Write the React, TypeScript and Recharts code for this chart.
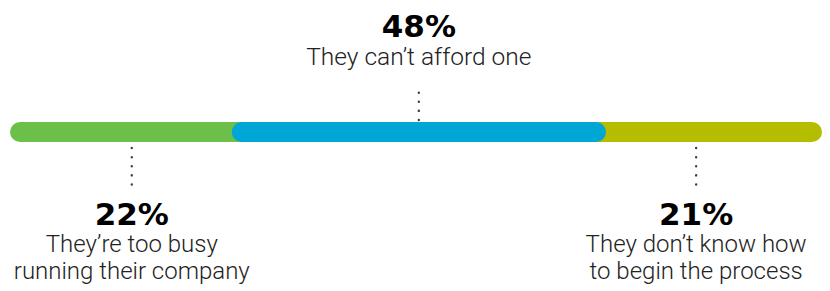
import React from 'react'
import { BarChart, Bar, XAxis, YAxis, LabelList } from 'recharts'

// one row, three overlapping segments along a 0-100 track
const keys = ['busy', 'afford', 'process']
const shares = [22, 48, 21]
const segStart = [0, 27.3, 69]
const segEnd = [30, 73.4, 100]
const captions = [
  ['They’re too busy', 'running their company'],
  ['They can’t afford one'],
  ['They don’t know how', 'to begin the process'],
]
const colors = ['#6cc04a', '#00a7d6', '#b5bd00']
const sides = ['bottom', 'top', 'bottom']

const row: { [k: string]: any } = { name: 'reasons' }
keys.forEach((k, i) => {
  row[k] = [segStart[i], segEnd[i]]
})
const chartData = [row]

const numFont = '"DejaVu Sans", sans-serif'
const capFont = 'Roboto, sans-serif'

function makeLabel(i: number) {
  return (props: any) => {
    const vb = props.viewBox || props
    const cx = vb.x + vb.width / 2
    const top = vb.y
    const bottom = vb.y + vb.height
    const lines = captions[i]
    if (sides[i] === 'top') {
      return (
        <g>
          <line x1={cx} x2={cx} y1={top - 2} y2={top - 34} stroke="#3d434a" strokeWidth={2.4} strokeDasharray="0.1 9" strokeLinecap="round" />
          <text x={cx} y={top - 85} textAnchor="middle" fontFamily={numFont} fontWeight={700} fontSize={31} fill="#000">
            {shares[i]}%
          </text>
          <text x={cx} y={top - 57} textAnchor="middle" fontFamily={capFont} fontWeight={300} fontSize={24.5} fill="#222">
            {lines[0]}
          </text>
        </g>
      )
    }
    return (
      <g>
        <line x1={cx} x2={cx} y1={bottom + 6} y2={bottom + 44} stroke="#3d434a" strokeWidth={2.4} strokeDasharray="0.1 9" strokeLinecap="round" />
        <text x={cx} y={bottom + 83} textAnchor="middle" fontFamily={numFont} fontWeight={700} fontSize={31} fill="#000">
          {shares[i]}%
        </text>
        {lines.map((t, j) => (
          <text key={j} x={cx} y={bottom + 110 + j * 27} textAnchor="middle" fontFamily={capFont} fontWeight={300} fontSize={24} fill="#222">
            {t}
          </text>
        ))}
      </g>
    )
  }
}

// draw order: green, olive, then blue on top
const order = [0, 2, 1]

export default function App() {
  return (
    <BarChart
      width={814}
      height={283}
      data={chartData}
      layout="vertical"
      margin={{ top: 100, right: 0, bottom: 135, left: 2 }}
    >
      <XAxis type="number" domain={[0, 100]} hide />
      {order.map((i) => (
        <YAxis key={keys[i]} yAxisId={keys[i]} type="category" dataKey="name" hide />
      ))}
      {order.map((i) => (
        <Bar
          key={keys[i]}
          yAxisId={keys[i]}
          dataKey={keys[i]}
          fill={colors[i]}
          barSize={20}
          radius={10}
          isAnimationActive={false}
        >
          <LabelList dataKey={keys[i]} content={makeLabel(i)} />
        </Bar>
      ))}
    </BarChart>
  )
}
